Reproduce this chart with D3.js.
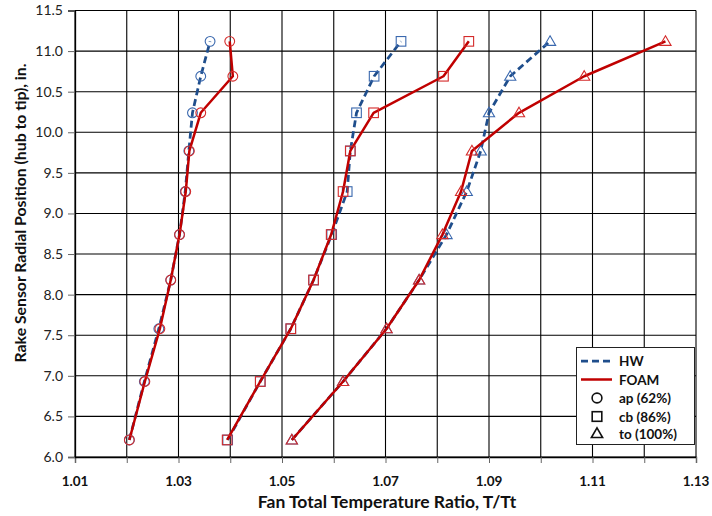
<!DOCTYPE html>
<html><head><meta charset="utf-8">
<script src="https://cdn.jsdelivr.net/npm/d3@7"></script>
<style>
html,body{margin:0;padding:0;background:#fff;}
svg{display:block;font-family:Lato,"Open Sans",sans-serif;}
</style></head>
<body>
<svg id="chart" width="712" height="516"></svg>
<script>
// Radial positions (in.)
const positions = [6.21, 6.93, 7.58, 8.18, 8.74, 9.27, 9.77, 10.24, 10.69, 11.12];
// Temperature ratio T/Tt per series
const apHW   = [1.0205, 1.0234, 1.0262, 1.0285, 1.0302, 1.0313, 1.0320, 1.0327, 1.0343, 1.0361];
const apFOAM = [1.0205, 1.0235, 1.0264, 1.0285, 1.0302, 1.0314, 1.0321, 1.0343, 1.0405, 1.0399];
const cbHW   = [1.0395, 1.0458, 1.0517, 1.0561, 1.0596, 1.0626, 1.0632, 1.0644, 1.0678, 1.0730];
const cbFOAM = [1.0394, 1.0458, 1.0517, 1.0561, 1.0595, 1.0618, 1.0632, 1.0677, 1.0812, 1.0861];
const toHW   = [1.0519, 1.0618, 1.0702, 1.0765, 1.0818, 1.0857, 1.0884, 1.0900, 1.0941, 1.1018];
const toFOAM = [1.0519, 1.0618, 1.0702, 1.0765, 1.0810, 1.0846, 1.0867, 1.0958, 1.1084, 1.1241];

const xTickLabels = ["1.01","1.03","1.05","1.07","1.09","1.11","1.13"];
const yTickLabels = ["6.0","6.5","7.0","7.5","8.0","8.5","9.0","9.5","10.0","10.5","11.0","11.5"];
const legendLabels = ["HW","FOAM","ap (62%)","cb (86%)","to (100%)"];

const series = [
  {name:"HW",   shape:"circle",   vals:apHW},
  {name:"FOAM", shape:"circle",   vals:apFOAM},
  {name:"HW",   shape:"square",   vals:cbHW},
  {name:"FOAM", shape:"square",   vals:cbFOAM},
  {name:"HW",   shape:"triangle", vals:toHW},
  {name:"FOAM", shape:"triangle", vals:toFOAM}
];

const style = {
  HW:   {line:"#1F4E8C", marker:"#3A68AE", dash:"7,4", width:2.75},
  FOAM: {line:"#C00000", marker:"#D42A2A", dash:null,  width:2.5}
};

const L = 75, R = 696, T = 10.5, B = 457;
const svg = d3.select("#chart");
const x = d3.scaleLinear().domain([1.01, 1.13]).range([L, R]);
const y = d3.scaleLinear().domain([6.0, 11.5]).range([B, T]);

const xGrid = d3.range(0, 13).map(i => 1.01 + i * 0.01);
const yGrid = yTickLabels.map(Number);

// gridlines
const g = svg.append("g");
g.selectAll("line.v").data(xGrid).join("line")
  .attr("x1", d => x(d)).attr("x2", d => x(d))
  .attr("y1", T).attr("y2", B)
  .attr("stroke", "#000").attr("stroke-width", 1.1);
g.selectAll("line.h").data(yGrid).join("line")
  .attr("y1", d => y(d)).attr("y2", d => y(d))
  .attr("x1", L).attr("x2", R)
  .attr("stroke", "#000").attr("stroke-width", 1.1);

// axes
const xAxis = d3.axisBottom(x).tickValues(xGrid).tickSize(6).tickFormat("");
svg.append("g").attr("transform", `translate(0,${B})`).call(xAxis)
  .call(a => a.select(".domain").attr("stroke", "#000").attr("stroke-width", 1.3))
  .call(a => a.selectAll(".tick line").attr("stroke", "#666"));
svg.append("g").selectAll("text").data(xTickLabels).join("text")
  .attr("x", d => x(+d)).attr("y", 486)
  .attr("text-anchor", "middle").attr("font-size", 13.5).attr("font-weight", "bold")
  .attr("fill", "#111").text(d => d);

const yAxis = d3.axisLeft(y).tickValues(yGrid).tickSize(7).tickFormat((d, i) => yTickLabels[i]);
svg.append("g").attr("transform", `translate(${L},0)`).call(yAxis)
  .call(a => a.select(".domain").attr("stroke", "#000").attr("stroke-width", 1.3))
  .call(a => a.selectAll(".tick line").attr("stroke", "#666"))
  .call(a => a.selectAll(".tick text").attr("font-size", 14).attr("fill", "#222")
      .attr("font-family", "Lato, sans-serif").attr("x", -12));

// titles
svg.append("text").attr("x", 387).attr("y", 508)
  .attr("text-anchor", "middle").attr("font-size", 17.5).attr("font-weight", "bold")
  .attr("fill", "#111").text("Fan Total Temperature Ratio, T/Tt");
svg.append("text").attr("transform", `translate(26,213) rotate(-90)`)
  .attr("text-anchor", "middle").attr("font-size", 15.8).attr("font-weight", "bold")
  .attr("fill", "#111").text("Rake Sensor Radial Position (hub to tip), in.");

// markers
function drawMarker(sel, shape, cx, cy, color, sw) {
  if (shape === "circle") {
    sel.append("circle").attr("cx", cx).attr("cy", cy).attr("r", 4.9)
      .attr("fill", "none").attr("stroke", color).attr("stroke-width", sw);
  } else if (shape === "square") {
    sel.append("rect").attr("x", cx - 4.8).attr("y", cy - 4.8).attr("width", 9.6).attr("height", 9.6)
      .attr("fill", "none").attr("stroke", color).attr("stroke-width", sw);
  } else {
    const s = 5.6;
    sel.append("path").attr("d", `M${cx},${cy - s}L${cx + s},${cy + s * 0.72}L${cx - s},${cy + s * 0.72}Z`)
      .attr("fill", "none").attr("stroke", color).attr("stroke-width", sw);
  }
}

const line = d3.line().x(d => x(d[0])).y(d => y(d[1]));
series.forEach(s => {
  const st = style[s.name];
  const pts = s.vals.map((v, i) => [v, positions[i]]);
  const gs = svg.append("g");
  gs.append("path").attr("d", line(pts)).attr("fill", "none")
    .attr("stroke", st.line).attr("stroke-width", st.width)
    .attr("stroke-dasharray", st.dash).attr("stroke-linejoin", "round");
  pts.forEach(p => drawMarker(gs, s.shape, x(p[0]), y(p[1]), st.marker, 1.1));
});

// legend
const lg = svg.append("g");
lg.append("rect").attr("x", 576.5).attr("y", 347.5).attr("width", 118).attr("height", 97)
  .attr("fill", "#fff").attr("stroke", "#222").attr("stroke-width", 1);
const ly = [361, 379.5, 398, 416.5, 433.5];
lg.append("line").attr("x1", 581).attr("x2", 612).attr("y1", ly[0]).attr("y2", ly[0])
  .attr("stroke", style.HW.line).attr("stroke-width", 2.75).attr("stroke-dasharray", "7,4");
lg.append("line").attr("x1", 581).attr("x2", 612).attr("y1", ly[1]).attr("y2", ly[1])
  .attr("stroke", style.FOAM.line).attr("stroke-width", 2.5);
["circle","square","triangle"].forEach((sh, i) => drawMarker(lg, sh, 597, ly[i + 2], "#111", 1.6));
lg.selectAll("text").data(legendLabels).join("text")
  .attr("x", 619).attr("y", (d, i) => ly[i] + 5)
  .attr("font-size", 13.5).attr("font-weight", "bold").attr("fill", "#111").text(d => d);
</script>
</body></html>
